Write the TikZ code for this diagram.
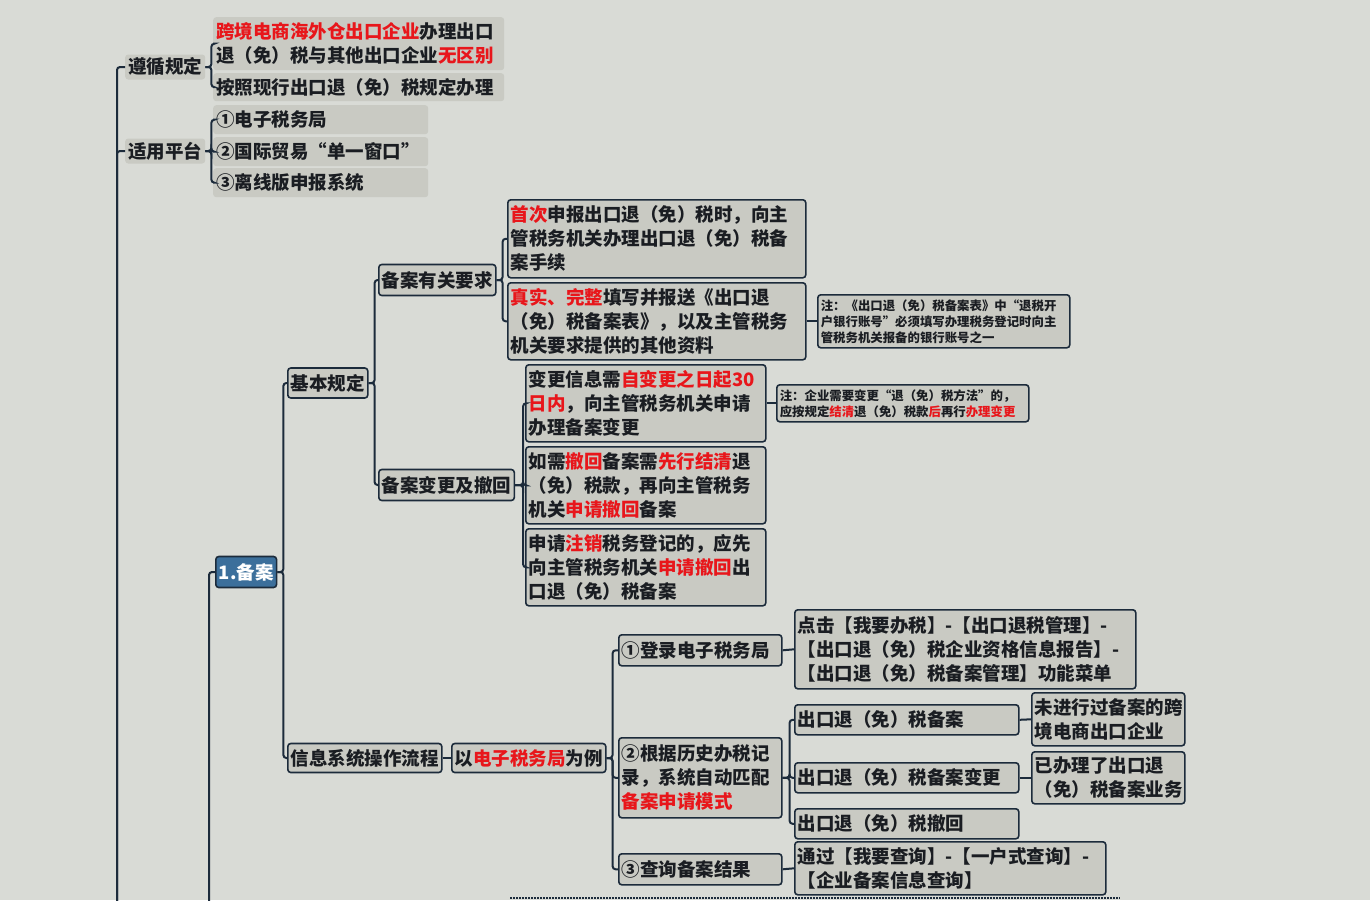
\documentclass[tikz,border=0pt]{standalone}
\usepackage{fontspec}
\setmainfont{Noto Sans CJK SC}
\usepackage{tikz}
\definecolor{bgc}{HTML}{D9DBD6}
\definecolor{boxc}{HTML}{C9CAC3}
\definecolor{linec}{HTML}{1C2B3B}
\definecolor{txtc}{HTML}{1A1D22}
\definecolor{topicc}{HTML}{3C6F9B}
\definecolor{hlred}{HTML}{E8161B}
\newcommand{\hl}[1]{\textcolor{hlred}{#1}}
\tikzstyle{plain}=[fill=boxc, rounded corners=3pt, inner xsep=3pt, inner ysep=2pt, align=left, text=txtc, font=\bfseries\fontsize{18.5}{24}\selectfont]
\tikzstyle{framed}=[plain, draw=linec, line width=1.6pt]
\tikzstyle{topic}=[framed, fill=topicc, text=white]
\tikzstyle{note}=[framed, font=\bfseries\fontsize{12.4}{16}\selectfont]
\tikzstyle{conn}=[draw=linec, line width=2pt, rounded corners=3pt]

\begin{document}
\begin{tikzpicture}[x=1pt,y=-1pt]
	\useasboundingbox (0,0) rectangle (1370,900);
	\fill[bgc] (0,0) rectangle (1370,900);

	% first branches
	\node[plain,anchor=west,minimum height=25pt] (zxgd) at (125,67) {遵循规定};
	\node[plain,anchor=west,minimum height=25pt] (sypt) at (125,151) {适用平台};
	\node[plain,anchor=north west,text width=285pt,minimum height=53pt] (a1) at (213,17) {\hl{跨境电商海外仓出口企业}办理出口\\退（免）税与其他出口企业\hl{无区别}};
	\node[plain,anchor=north west,text width=285pt,minimum height=28pt] (a2) at (213,73) {按照现行出口退（免）税规定办理};
	\node[plain,anchor=north west,text width=209pt,minimum height=29pt] (b1) at (213,105) {①电子税务局};
	\node[plain,anchor=north west,text width=209pt,minimum height=29pt] (b2) at (213,137) {②国际贸易“单一窗口”};
	\node[plain,anchor=north west,text width=209pt,minimum height=29pt] (b3) at (213,168) {③离线版申报系统};

	% 1. topic
	\node[topic,anchor=west,minimum height=31pt] (bean) at (215,572) {1.备案};
	\node[framed,anchor=west,minimum height=30pt] (jbgd) at (287,383) {基本规定};
	\node[framed,anchor=west,minimum height=31pt] (bayq) at (378,280) {备案有关要求};
	\node[framed,anchor=west,minimum height=31pt] (bgch) at (378,485) {备案变更及撤回};
	\node[framed,anchor=north west,text width=292pt,minimum height=78pt] (r1) at (507,199) {\hl{首次}申报出口退（免）税时，向主\\管税务机关办理出口退（免）税备\\案手续};
	\node[framed,anchor=north west,text width=292pt,minimum height=77pt] (r2) at (507,282) {\hl{真实、完整}填写并报送《出口退\\（免）税备案表》，以及主管税务\\机关要求提供的其他资料};
	\node[note,anchor=north west,text width=246pt,minimum height=53pt] (n1) at (817,294) {注：《出口退（免）税备案表》中“退税开\\户银行账号”必须填写办理税务登记时向主\\管税务机关报备的银行账号之一};
	\node[framed,anchor=north west,text width=234pt,minimum height=77pt] (c1) at (525,364) {变更信息需\hl{自变更之日起30}\\\hl{日内}，向主管税务机关申请\\办理备案变更};
	\node[framed,anchor=north west,text width=234pt,minimum height=77pt] (c2) at (525,446) {如需\hl{撤回}备案需\hl{先行结清}退\\（免）税款，再向主管税务\\机关\hl{申请撤回}备案};
	\node[framed,anchor=north west,text width=234pt,minimum height=77pt] (c3) at (525,528) {申请\hl{注销}税务登记的，应先\\向主管税务机关\hl{申请撤回}出\\口退（免）税备案};
	\node[note,anchor=north west,text width=246pt,minimum height=37pt] (n2) at (776,384) {注：企业需要变更“退（免）税方法”的，\\应按规定\hl{结清}退（免）税款\hl{后}再行\hl{办理变更}};

	\node[framed,anchor=west,minimum height=29pt] (xtlc) at (287,758) {信息系统操作流程};
	\node[framed,anchor=west,minimum height=29pt] (dzsw) at (451,758) {以\hl{电子税务局}为例};
	\node[framed,anchor=north west,text width=157pt,minimum height=31pt] (s1) at (618,634) {①登录电子税务局};
	\node[framed,anchor=north west,text width=157pt,minimum height=80pt] (s2) at (618,737) {②根据历史办税记\\录，系统自动匹配\\\hl{备案申请模式}};
	\node[framed,anchor=north west,text width=157pt,minimum height=31pt] (s3) at (618,853) {③查询备案结果};
	\node[framed,anchor=north west,text width=335pt,minimum height=79pt] (d1) at (794,609) {点击【我要办税】-【出口退税管理】-\\【出口退（免）税企业资格信息报告】-\\【出口退（免）税备案管理】功能菜单};
	\node[framed,anchor=north west,text width=218pt,minimum height=30pt] (t1) at (794,704) {出口退（免）税备案};
	\node[framed,anchor=north west,text width=218pt,minimum height=30pt] (t2) at (794,762) {出口退（免）税备案变更};
	\node[framed,anchor=north west,text width=218pt,minimum height=30pt] (t3) at (794,808) {出口退（免）税撤回};
	\node[framed,anchor=north west,text width=147pt,minimum height=53pt] (u1) at (1031,692) {未进行过备案的跨\\境电商出口企业};
	\node[framed,anchor=north west,text width=147pt,minimum height=52pt] (u2) at (1031,751) {已办理了出口退\\（免）税备案业务};
	\node[framed,anchor=north west,text width=305pt,minimum height=53pt] (cx) at (794,841) {通过【我要查询】-【一户式查询】-\\【企业备案信息查询】};

	\coordinate (trunk) at (117,905);
	\coordinate (beanbot) at (209,905);

	% connectors
	\draw[conn] (zxgd.west) -| (trunk);
	\draw[conn] (sypt.west) -| (trunk);
	\draw[conn] (zxgd.east) -- ++(6,0) |- (a1.west);
	\draw[conn] (zxgd.east) -- ++(6,0) |- (a2.west);
	\foreach \b in {b1,b2,b3}
		\draw[conn] (sypt.east) -- ++(6,0) |- (\b.west);

	\draw[conn] (bean.west) -| (beanbot);
	\draw[conn] (bean.east) -- ++(6,0) |- (jbgd.west);
	\draw[conn] (bean.east) -- ++(6,0) |- (xtlc.west);
	\draw[conn] (jbgd.east) -- ++(6,0) |- (bayq.west);
	\draw[conn] (jbgd.east) -- ++(6,0) |- (bgch.west);
	\draw[conn] (bayq.east) -- ++(6,0) |- (r1.west);
	\draw[conn] (bayq.east) -- ++(6,0) |- (r2.west);
	\draw[conn] (r2.east) -- (n1.west);
	\foreach \c in {c1,c2,c3}
		\draw[conn] (bgch.east) -- ++(8,0) |- (\c.west);
	\draw[conn] (c1.east) -- (n2.west);

	\draw[conn] (xtlc.east) -- (dzsw.west);
	\foreach \s in {s1,s2,s3}
		\draw[conn] (dzsw.east) -- ++(6,0) |- (\s.west);
	\draw[conn] (s1.east) -- (d1.west);
	\foreach \t in {t1,t2,t3}
		\draw[conn] (s2.east) -- ++(7,0) |- (\t.west);
	\draw[conn] (t1.east) -- (u1.west);
	\draw[conn] (t2.east) -- (u2.west);
	\draw[conn] (s3.east) -- (cx.west);

	% edge of the next box
	\draw[linec,line width=1.6pt,dashed,dash pattern=on 2pt off 1pt] (510,898) -- (1120,898);
\end{tikzpicture}
\end{document}
